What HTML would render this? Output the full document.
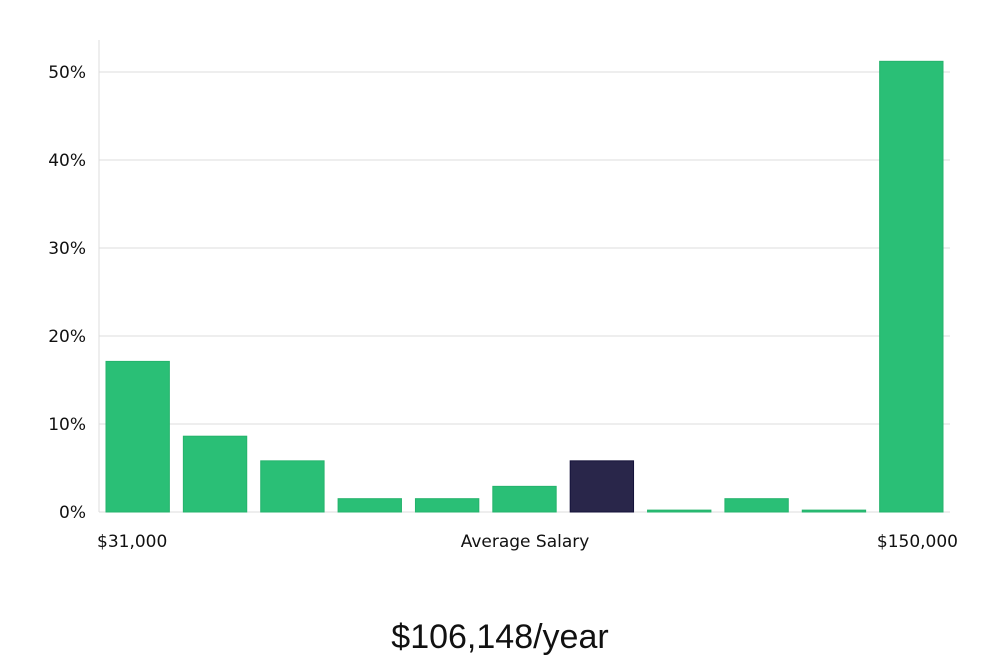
<!DOCTYPE html>
<html><head><meta charset="utf-8"><style>
body{margin:0;background:#fff;width:1000px;height:660px;overflow:hidden}
svg{display:block}
text{font-family:"DejaVu Sans","Liberation Sans",sans-serif;fill:#111}
</style></head><body>
<svg id="chart" width="1000" height="660" viewBox="0 0 1000 660"></svg>
<script>
const categories=["b1","b2","b3","b4","b5","b6","b7","b8","b9","b10","b11"];
const values=[17.0,8.5,5.7,1.4,1.4,2.8,5.7,0.1,1.4,0.1,51.1];
const highlightIndex=6;
const yTicks=[0,10,20,30,40,50];
const yTickLabels=["0%","10%","20%","30%","40%","50%"];
const xLabels=["$31,000","Average Salary","$150,000"];
const NS="http://www.w3.org/2000/svg";
const svg=document.getElementById('chart');
const L=99,R=950,T=40,B=512,pxPer=8.8;
const y=v=>B-v*pxPer;
const band=(R-L)/categories.length;
const x=i=>L+i*band+7;
const bw=band-14;
function mk(tag,attrs){const e=document.createElementNS(NS,tag);for(const k in attrs)e.setAttribute(k,attrs[k]);svg.appendChild(e);return e;}
yTicks.forEach((t,i)=>{
 const g=mk('line',{x1:L,x2:R,y1:y(t),y2:y(t),stroke:'#dcdcdc','stroke-width':1});
 
 
 const tx=mk('text',{x:86,y:y(t)+6,'text-anchor':'end','font-size':17});
 tx.textContent=yTickLabels[i];
 
 
});
const ax=mk('line',{x1:L,x2:L,y1:T,y2:B,stroke:'#dcdcdc','stroke-width':1});


values.forEach((v,i)=>{
 const hi=i===highlightIndex;
 const r=mk('rect',{x:x(i),y:y(v)-1,width:bw,height:Math.max(v*pxPer,0)+1,fill:hi?'#29264a':'#2abf76',stroke:hi?'#14123a':'#25b36c','stroke-width':1});
 
 
});
const xl=[[97,'start'],[525,'middle'],[958,'end']];
xLabels.forEach((s,i)=>{
 const t=mk('text',{x:xl[i][0],y:547,'text-anchor':xl[i][1],'font-size':17});
 t.textContent=s;
 
 
});
const tt=mk('text',{x:500,y:648,'text-anchor':'middle','font-size':34});
tt.setAttribute('style','font-family:"Liberation Sans",sans-serif;font-weight:300');
tt.textContent="$106,148/year";


</script>
</body></html>
